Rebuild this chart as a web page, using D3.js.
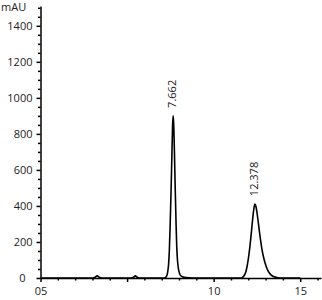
<!DOCTYPE html>
<meta charset="utf-8">
<style>
body { margin: 0; background: #fff; }
svg text { font-family: "Open Sans", sans-serif; fill: #222; }
.axis path, .axis line { stroke: #000; stroke-width: 1.5; }
</style>
<svg width="322" height="300"></svg>
<script src="https://d3js.org/d3.v7.min.js"></script>
<script>

// trace (time in min, signal in mAU)
var traceTime = [0, 3.0, 3.15, 3.27, 3.39, 3.55, 5.25, 5.38, 5.48, 5.58, 5.72,
  7.1, 7.2, 7.28, 7.34, 7.40, 7.44, 7.49, 7.54, 7.59, 7.63, 7.662, 7.69, 7.73, 7.78, 7.83, 7.87, 7.91, 7.96, 8.03, 8.13, 8.3, 8.6, 9.0,
  11.6, 11.7, 11.8, 11.88, 11.95, 12.03, 12.1, 12.17, 12.24, 12.31, 12.378, 12.44, 12.5, 12.57, 12.64, 12.71, 12.78, 12.86, 12.95, 13.05, 13.15, 13.28, 13.45, 13.65, 13.9, 15.0]
var traceMAU = [0, 0, 4, 12, 4, 0, 0, 4, 12, 4, 0,
  0, 2, 10, 30, 80, 150, 300, 480, 690, 850, 900, 860, 720, 500, 300, 170, 100, 55, 25, 10, 4, 1, 0,
  0, 6, 20, 42, 75, 125, 180, 245, 315, 375, 410, 398, 365, 315, 260, 210, 165, 125, 90, 60, 38, 20, 8, 3, 0, 0]

var peakTimes = [7.662, 12.378]
var peakHeights = [900, 410]
var peakLabels = ["7.662", "12.378"]

var yMajor = [0, 200, 400, 600, 800, 1000, 1200, 1400]
var xMajor = [0, 5, 10, 15]
var xLabels = ["05", "", "10", "15"]

var svg = d3.select("svg")

var x = d3.scaleLinear().domain([0, 16.2]).range([40.5, 321])
var y = d3.scaleLinear().domain([0, 1510]).range([278, 6])

// y axis
var yMinor = d3.range(0, 1501, 50).filter(function(d) { return d % 200 != 0 })
svg.append("g").attr("class", "axis").attr("transform", "translate(40.5,0)")
  .call(d3.axisLeft(y).tickValues(yMinor).tickSize(2.5).tickFormat(""))
  .call(function(g) { g.select(".domain").remove() })
svg.append("g").attr("class", "axis").attr("transform", "translate(40.5,0)")
  .call(d3.axisLeft(y).tickValues(yMajor).tickSize(4).tickSizeOuter(0).tickPadding(4).tickFormat(d3.format("d")))
  .call(function(g) {
    g.selectAll("text").style("font-size", "11px")
    g.selectAll("text").filter(function(d) { return d == 0 }).attr("dx", -7)
  })

// x axis
var xMinor = d3.range(0, 17, 1).filter(function(d) { return d % 5 != 0 })
svg.append("g").attr("class", "axis").attr("transform", "translate(0,278)")
  .call(d3.axisBottom(x).tickValues(xMinor).tickSize(2.5).tickFormat(""))
  .call(function(g) { g.select(".domain").remove() })
svg.append("g").attr("class", "axis").attr("transform", "translate(0,278)")
  .call(d3.axisBottom(x).tickValues(xMajor).tickSize(4).tickSizeOuter(0).tickPadding(5)
    .tickFormat(function(d, i) { return xLabels[i] }))
  .call(function(g) { g.selectAll("text").style("font-size", "11px") })

svg.append("text")
  .attr("x", 1).attr("y", 11)
  .style("font-size", "11px")
  .text("mAU")

// trace
var pts = traceTime.map(function(t, i) { return [t, traceMAU[i]] })
svg.append("path")
  .datum(pts)
  .attr("fill", "none")
  .attr("stroke", "#000")
  .attr("stroke-width", 1.6)
  .attr("stroke-linejoin", "round")
  .attr("d", d3.line().curve(d3.curveMonotoneX)
    .x(function(d) { return x(d[0]) })
    .y(function(d) { return y(d[1]) }))

// peak labels
svg.selectAll(".peak")
  .data(peakTimes)
  .enter()
  .append("text")
  .attr("class", "peak")
  .attr("transform", function(d, i) {
    return "translate(" + (x(d) + 3) + "," + (y(peakHeights[i]) - 8) + ")rotate(-90)"
  })
  .style("font-size", "11px")
  .text(function(d, i) { return peakLabels[i] })

</script>
